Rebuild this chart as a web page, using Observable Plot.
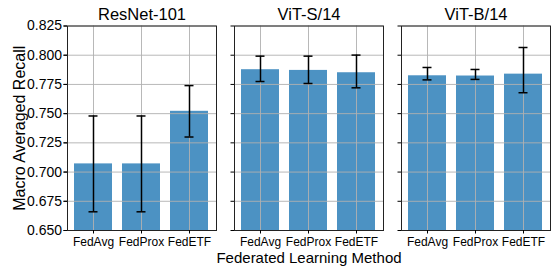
<!DOCTYPE html>
<html><head><meta charset="utf-8">
<script src="https://cdn.jsdelivr.net/npm/d3@7"></script>
<script src="https://cdn.jsdelivr.net/npm/@observablehq/plot@0.6"></script>
<style>body{margin:0;background:#fff} svg{font-family:"Liberation Sans",Arial,sans-serif}</style>
</head><body><div id="chart"></div>
<script>
const models = ["ResNet-101", "ViT-S/14", "ViT-B/14"];
const methods = ["FedAvg", "FedProx", "FedETF"];
const meanRecall = [[0.707, 0.707, 0.752], [0.7876, 0.787, 0.785], [0.7824, 0.7822, 0.7838]];
const lowRecall  = [[0.666, 0.666, 0.730], [0.7775, 0.7758, 0.7721], [0.7789, 0.7793, 0.7679]];
const highRecall = [[0.748, 0.748, 0.774], [0.7992, 0.7992, 0.8001], [0.7895, 0.7878, 0.8066]];
const yTicks = [0.650, 0.675, 0.700, 0.725, 0.750, 0.775, 0.800, 0.825];
const yLabel = "Macro Averaged Recall";
const xLabel = "Federated Learning Method";

const rows = models.flatMap((m, i) => methods.map((k, j) => ({
  model: m, method: k, mean: meanRecall[i][j], lo: lowRecall[i][j], hi: highRecall[i][j]
})));
const gridV = models.flatMap(m => methods.map(k => ({model: m, method: k})));
const gridH = models.flatMap(m => yTicks.map(t => ({model: m, t})));

const capInset = 14.5;
const chart = Plot.plot({
  width: 559, height: 273,
  marginTop: 25.5, marginBottom: 43, marginLeft: 66, marginRight: 7,
  fx: {domain: models, paddingInner: 0.107, paddingOuter: 0},
  x: {domain: methods, paddingInner: 0.2, paddingOuter: 0.14},
  y: {domain: [yTicks[0], yTicks[yTicks.length - 1]]},
  style: {fontFamily: "'Liberation Sans', Arial, sans-serif", color: "#000", background: "#fff"},
  marks: [
    Plot.barY(rows, {fx: "model", x: "method", y1: () => yTicks[0], y2: "mean", fill: "#1f77b4", fillOpacity: 0.8}),
    Plot.ruleY(gridH, {fx: "model", y: "t", stroke: "#b0b0b0", strokeWidth: 0.9}),
    Plot.ruleX(gridV, {fx: "model", x: "method", stroke: "#b0b0b0", strokeWidth: 0.9}),
    Plot.ruleX(rows, {fx: "model", x: "method", y1: "lo", y2: "hi", stroke: "#000", strokeWidth: 1.5}),
    Plot.tickY(rows, {fx: "model", x: "method", y: "lo", stroke: "#000", strokeWidth: 1.5, insetLeft: capInset, insetRight: capInset}),
    Plot.tickY(rows, {fx: "model", x: "method", y: "hi", stroke: "#000", strokeWidth: 1.5, insetLeft: capInset, insetRight: capInset}),
    Plot.frame({stroke: "#222", strokeWidth: 1}),
    Plot.axisFx({anchor: "top", tickSize: 0, tickPadding: 6, fontSize: 16.5, label: null}),
    Plot.axisX({tickSize: 3.5, tickPadding: 3, fontSize: 12, label: null}),
    Plot.axisY(yTicks, {tickSize: 3.5, tickPadding: 2, tickFormat: ".3f", fontSize: 14, label: null}),
    Plot.axisY(yTicks, {tickSize: 0, tickFormat: () => "", fontSize: 16,
      label: yLabel, labelAnchor: "center", labelArrow: "none", labelOffset: 54}),
    Plot.axisY(yTicks, {tickSize: 3.5, facetAnchor: null, tickFormat: () => "", label: null}),
    Plot.text([xLabel], {fx: () => models[1], text: d => d, frameAnchor: "bottom", dy: 28, fontSize: 15, lineAnchor: "middle"})
  ]
});
document.getElementById("chart").appendChild(chart);
</script>
</body></html>
